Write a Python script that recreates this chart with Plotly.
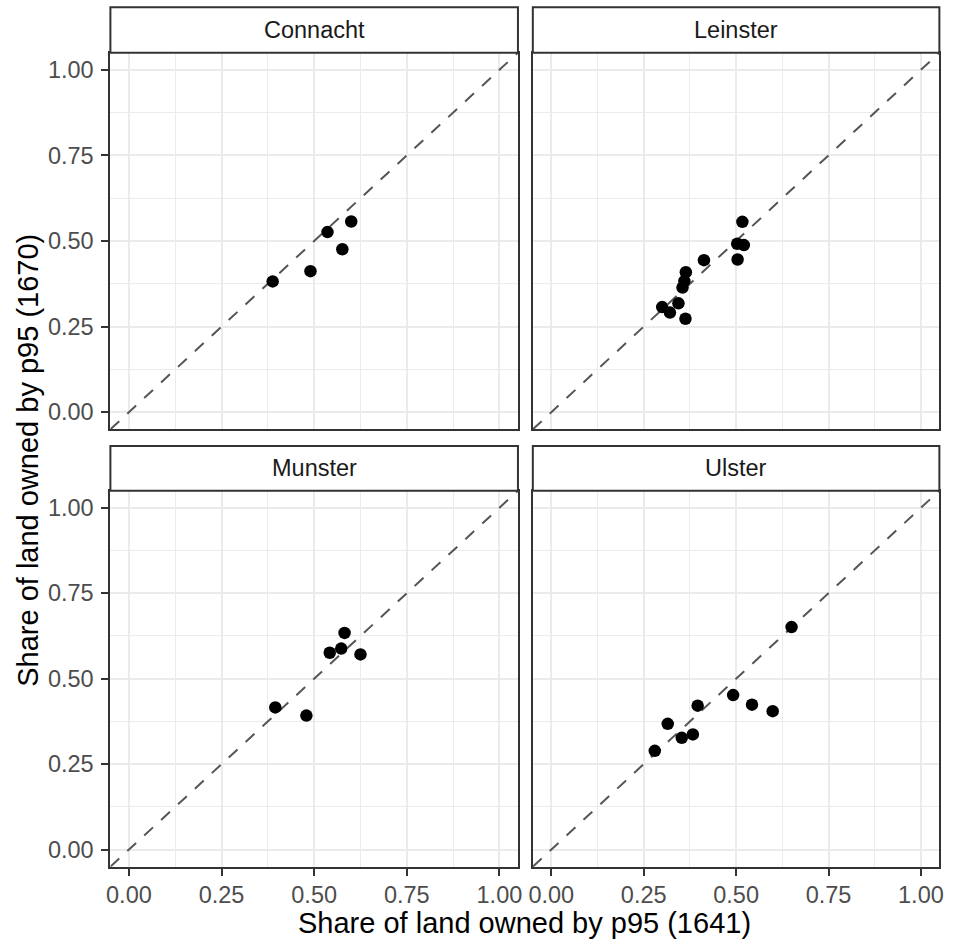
import plotly.graph_objects as go

# ---------------- data ----------------
provinces = ["Connacht", "Leinster", "Munster", "Ulster"]

connacht_x = [0.388, 0.490, 0.536, 0.576, 0.600]
connacht_y = [0.382, 0.412, 0.526, 0.476, 0.557]

leinster_x = [0.517, 0.503, 0.521, 0.504, 0.413, 0.364, 0.360, 0.355, 0.344, 0.300, 0.321, 0.363]
leinster_y = [0.556, 0.492, 0.488, 0.446, 0.444, 0.409, 0.383, 0.364, 0.318, 0.307, 0.291, 0.273]

munster_x = [0.582, 0.573, 0.542, 0.625, 0.395, 0.479]
munster_y = [0.634, 0.588, 0.576, 0.571, 0.416, 0.392]

ulster_x = [0.650, 0.492, 0.543, 0.599, 0.396, 0.315, 0.383, 0.353, 0.280]
ulster_y = [0.651, 0.452, 0.424, 0.405, 0.421, 0.368, 0.337, 0.327, 0.289]

tick_values = [0.0, 0.25, 0.5, 0.75, 1.0]
tick_labels = ["0.00", "0.25", "0.50", "0.75", "1.00"]

x_title = "Share of land owned by p95 (1641)"
y_title = "Share of land owned by p95 (1670)"

# ---------------- layout geometry (pixels) ----------------
W, H = 953, 943
AX_RANGE = [-0.05, 1.05]
col_px = [(107.3, 518.3), (533.3, 943.3)]
row_px = [(52.7, 429.3), (490.7, 866.7)]       # plot area top/bottom
strip_px = [(7.3, 52.7), (446.0, 490.7)]        # strip top/bottom

def px_x(p):
    return p / W

def px_y(p):
    return 1 - p / H

FONT = "Liberation Sans, Arial, sans-serif"
series = [(connacht_x, connacht_y), (leinster_x, leinster_y),
          (munster_x, munster_y), (ulster_x, ulster_y)]

fig = go.Figure()
layout = {}
shapes = []
annotations = []

for i, name in enumerate(provinces):
    r, c = divmod(i, 2)
    n = i + 1
    xa = "x" if n == 1 else f"x{n}"
    ya = "y" if n == 1 else f"y{n}"
    xs, ys = series[i]

    # reference line y = x across the whole panel
    fig.add_trace(go.Scatter(
        x=AX_RANGE, y=AX_RANGE, mode="lines",
        line=dict(color="#555555", width=2, dash="12px,11px"),
        xaxis=xa, yaxis=ya, showlegend=False, hoverinfo="skip"))
    fig.add_trace(go.Scatter(
        x=xs, y=ys, mode="markers",
        marker=dict(color="black", size=12.5, line=dict(width=0)),
        xaxis=xa, yaxis=ya, showlegend=False, name=name))

    show_x = (r == 1)
    show_y = (c == 0)
    common = dict(
        range=AX_RANGE, showline=True, mirror=True, linecolor="#333333", linewidth=2,
        showgrid=True, gridcolor="#EBEBEB", gridwidth=2.2, zeroline=False,
        tickmode="array", tickvals=tick_values, ticktext=tick_labels,
        minor=dict(tickmode="array", tickvals=[0.125, 0.375, 0.625, 0.875],
                   showgrid=True, gridcolor="#EBEBEB", gridwidth=1.1, ticks=""),
        tickfont=dict(family=FONT, size=23.5, color="#4D4D4D"),
        ticklen=7, tickwidth=2, tickcolor="#333333",
        fixedrange=True,
    )
    xd = dict(common)
    xd.update(domain=[px_x(col_px[c][0]), px_x(col_px[c][1])], anchor=ya,
              showticklabels=show_x, ticks="outside" if show_x else "")
    yd = dict(common)
    yd.update(domain=[px_y(row_px[r][1]), px_y(row_px[r][0])], anchor=xa,
              showticklabels=show_y, ticks="outside" if show_y else "")
    if show_x:
        xd["ticklabelstandoff"] = -1
    if show_y:
        yd["ticklabelstandoff"] = 3
    layout["xaxis" if n == 1 else f"xaxis{n}"] = xd
    layout["yaxis" if n == 1 else f"yaxis{n}"] = yd

    # strip
    x0, x1 = px_x(col_px[c][0]), px_x(col_px[c][1])
    y0, y1 = px_y(strip_px[r][1]), px_y(strip_px[r][0])
    shapes.append(dict(type="rect", xref="paper", yref="paper",
                       x0=x0, x1=x1, y0=y0, y1=y1,
                       fillcolor="white", line=dict(color="#333333", width=2)))
    annotations.append(dict(text=name, xref="paper", yref="paper",
                            x=(x0 + x1) / 2, y=(y0 + y1) / 2,
                            xanchor="center", yanchor="middle", showarrow=False,
                            font=dict(family=FONT, size=23.5, color="#1A1A1A")))

annotations.append(dict(text=x_title, xref="paper", yref="paper",
                        x=px_x(525), y=px_y(923), xanchor="center", yanchor="middle",
                        showarrow=False, font=dict(family=FONT, size=29, color="black")))
annotations.append(dict(text=y_title, xref="paper", yref="paper",
                        x=px_x(24), y=px_y(460), xanchor="center", yanchor="middle",
                        textangle=-90, showarrow=False,
                        font=dict(family=FONT, size=29, color="black")))

fig.update_layout(
    width=W, height=H,
    margin=dict(l=0, r=0, t=0, b=0),
    paper_bgcolor="white", plot_bgcolor="white",
    shapes=shapes, annotations=annotations,
    showlegend=False,
    **layout,
)

fig.write_html("out.html",
               config={"displayModeBar": False},
               post_script="document.body.style.margin='0';document.body.style.overflow='hidden';")
